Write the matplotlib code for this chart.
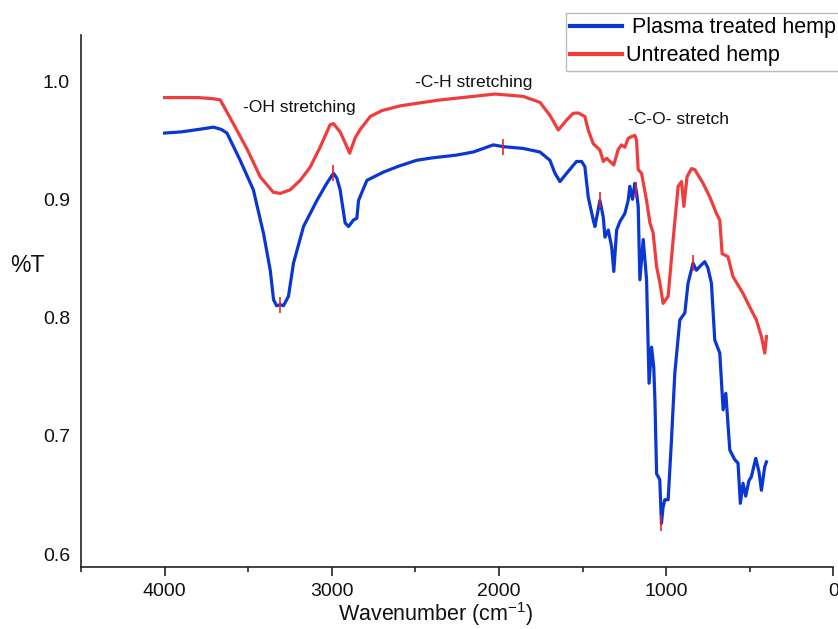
import numpy as np
import matplotlib
matplotlib.use("Agg")
import matplotlib.pyplot as plt

plt.rcParams['font.family'] = ['Liberation Sans', 'DejaVu Sans']
plt.rcParams['mathtext.fontset'] = 'custom'
plt.rcParams['mathtext.rm'] = 'Liberation Sans'
plt.rcParams['mathtext.it'] = 'Liberation Sans:italic'
plt.rcParams['mathtext.bf'] = 'Liberation Sans:bold'

# ---- data ----
plasma_wn = [4000, 3900, 3800, 3707, 3660, 3627, 3548, 3469, 3408, 3368, 3348, 3330, 3308, 3289,
             3259, 3229, 3169, 3089, 3030, 2990, 2970, 2950, 2920, 2900, 2870, 2850, 2840, 2790,
             2691, 2600, 2492, 2400, 2253, 2153, 2034, 1974, 1855, 1755, 1695, 1665, 1635, 1595,
             1536, 1506, 1486, 1466, 1436, 1426, 1396, 1376, 1366, 1346, 1326, 1313, 1296, 1277,
             1247, 1227, 1217, 1201, 1187, 1177, 1167, 1157, 1137, 1117, 1102, 1087, 1074, 1067,
             1057, 1038, 1028, 1018, 1008, 988, 968, 948, 918, 888, 869, 839, 819, 800, 769, 750,
             729, 709, 679, 659, 643, 619, 590, 570, 556, 540, 524, 505, 490, 464, 445, 430, 410, 400]
plasma_T = [0.956, 0.957, 0.959, 0.961, 0.959, 0.956, 0.933, 0.908, 0.871, 0.840, 0.815, 0.810,
            0.811, 0.810, 0.818, 0.846, 0.877, 0.899, 0.9135, 0.922, 0.918, 0.908, 0.880, 0.877,
            0.8825, 0.884, 0.899, 0.916, 0.923, 0.928, 0.933, 0.935, 0.9374, 0.940, 0.946, 0.9445,
            0.943, 0.940, 0.933, 0.922, 0.915, 0.922, 0.932, 0.932, 0.9276, 0.902, 0.8825, 0.877,
            0.899, 0.885, 0.868, 0.874, 0.860, 0.839, 0.874, 0.881, 0.888, 0.899, 0.911, 0.900,
            0.9135, 0.906, 0.894, 0.832, 0.866, 0.832, 0.7445, 0.775, 0.758, 0.730, 0.668, 0.663,
            0.626, 0.640, 0.646, 0.646, 0.6965, 0.753, 0.798, 0.804, 0.829, 0.846, 0.840, 0.843,
            0.8473, 0.842, 0.829, 0.781, 0.770, 0.722, 0.736, 0.688, 0.680, 0.677, 0.643, 0.660,
            0.649, 0.662, 0.6655, 0.681, 0.670, 0.654, 0.674, 0.678]

untreated_wn = [4000, 3900, 3800, 3708, 3667, 3589, 3505, 3428, 3350, 3308, 3249, 3189, 3130,
                3070, 3010, 2990, 2950, 2908, 2893, 2860, 2830, 2770, 2700, 2591, 2450, 2352,
                2153, 2024, 1855, 1755, 1695, 1645, 1595, 1556, 1526, 1486, 1466, 1436, 1396,
                1376, 1356, 1313, 1287, 1267, 1247, 1227, 1207, 1187, 1177, 1167, 1147, 1117,
                1097, 1078, 1057, 1038, 1018, 988, 958, 928, 908, 894, 875, 848, 828, 779, 739,
                699, 679, 665, 630, 600, 540, 500, 460, 430, 410, 400]
untreated_T = [0.986, 0.986, 0.986, 0.985, 0.984, 0.964, 0.942, 0.919, 0.906, 0.905, 0.908,
               0.916, 0.927, 0.944, 0.963, 0.964, 0.957, 0.944, 0.939, 0.952, 0.959, 0.970,
               0.975, 0.979, 0.982, 0.984, 0.987, 0.989, 0.987, 0.982, 0.971, 0.9586, 0.967,
               0.9727, 0.973, 0.970, 0.9586, 0.947, 0.9417, 0.932, 0.9347, 0.929, 0.942, 0.946,
               0.944, 0.9515, 0.953, 0.954, 0.950, 0.925, 0.922, 0.899, 0.880, 0.872, 0.843,
               0.830, 0.812, 0.818, 0.866, 0.911, 0.915, 0.894, 0.919, 0.926, 0.925, 0.9135,
               0.902, 0.888, 0.8825, 0.854, 0.8515, 0.8346, 0.8205, 0.809, 0.798, 0.784, 0.770,
               0.784]

peak_marks_wn = [3308, 2990, 1974, 1396, 1180, 1028, 839]

series_labels = [" Plasma treated hemp", "Untreated hemp"]
annotations = ["-OH stretching", "-C-H stretching", "-C-O- stretch"]
annotation_wn = [3530, 2505, 1227]
annotation_T = [0.9738, 0.995, 0.9637]

x_major = [4000, 3000, 2000, 1000, 0]
x_minor = [4500, 3500, 2500, 1500, 500]
y_ticks = [0.6, 0.7, 0.8, 0.9, 1.0]

# ---- figure ----
W, H = 838, 629
fig = plt.figure(figsize=(W / 100, H / 100), dpi=100)
ax = fig.add_axes([81 / W, 1 - 567.3 / H, (833.3 - 81) / W, (567.3 - 35) / H])

blue = '#0a36d2'
red = '#f03c3c'
l1, = ax.plot(plasma_wn, plasma_T, color=blue, lw=2.3, solid_joinstyle='round')
l2, = ax.plot(untreated_wn, untreated_T, color=red, lw=2.3, solid_joinstyle='round')

# peak markers (on blue curve)
pk_T = np.interp(peak_marks_wn, plasma_wn[::-1], plasma_T[::-1])
ax.plot(peak_marks_wn, pk_T, ls='none', marker='|', ms=12, mew=1.2, color='#e8202a')

ax.set_xlim(4500, 0)
ax.set_ylim(0.5889, 1.0389)

for s in ['top', 'right']:
    ax.spines[s].set_visible(False)
for s in ['left', 'bottom']:
    ax.spines[s].set_linewidth(1.2)
    ax.spines[s].set_color('#222222')

ax.set_xticks(x_major)
ax.set_xticks(x_minor, minor=True)
ax.set_yticks(y_ticks)
ax.set_yticklabels([f"{v:.1f}" for v in y_ticks])
ax.tick_params(axis='x', which='major', length=6.5, width=1.2, direction='out',
               labelsize=14, pad=5, colors='#222222', labelcolor='#111111')
ax.tick_params(axis='x', which='minor', length=3.5, width=1.2, direction='out', colors='#222222')
ax.tick_params(axis='y', which='both', length=0, labelsize=14, pad=8, labelcolor='#111111')

for txt, xw, yt in zip(annotations, annotation_wn, annotation_T):
    ax.text(xw, yt, txt, fontsize=12.6, ha='left', va='baseline', color='#111111')

fig.text(27 / W, 1 - 265 / H, "%T", fontsize=16.5, ha='center', va='center', color='#111111')
fig.text(436 / W, 1 - 627.5 / H, "Wavenumber (cm$^{-1}$)", fontsize=15.5, ha='center',
         va='bottom', color='#111111')

leg = fig.legend([l1, l2], series_labels, loc='upper left',
                 bbox_to_anchor=(566 / W, 1 - 13 / H), fontsize=15.5,
                 handlelength=2.4, handletextpad=0.2, labelspacing=0.33,
                 borderpad=0.2, borderaxespad=0, frameon=True, fancybox=False,
                 shadow=False, edgecolor='#aaaaaa')
leg.get_frame().set_linewidth(1.0)
for line in leg.get_lines():
    line.set_linewidth(3)

fig.savefig("out.png", dpi=100)
